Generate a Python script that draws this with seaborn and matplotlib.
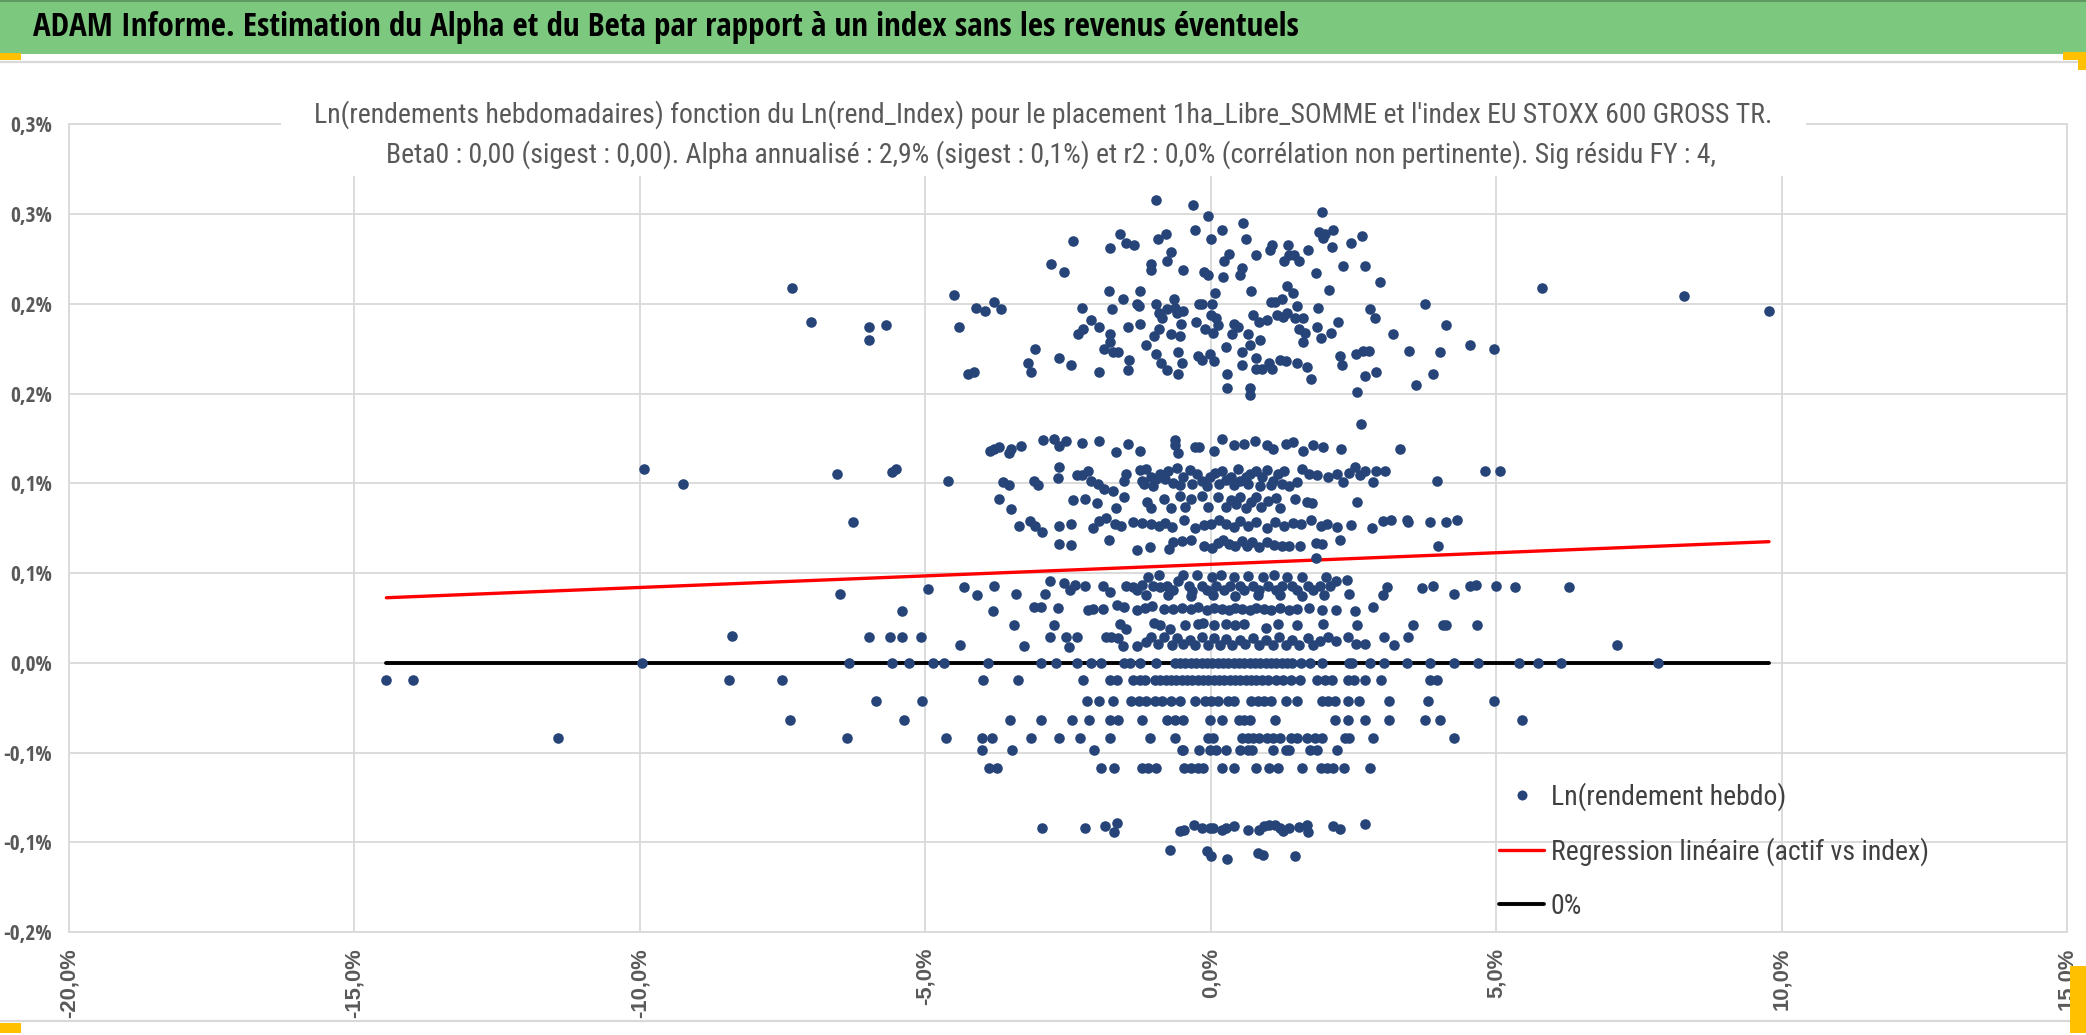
import os
import matplotlib
matplotlib.use("Agg")
import matplotlib.pyplot as plt
import seaborn as sns
import numpy as np
import pandas as pd
from matplotlib.patches import Rectangle
from matplotlib.lines import Line2D
from matplotlib import font_manager as fm
from matplotlib.font_manager import FontProperties

# ------------------------------------------------------------------
# DATA  (all values in percent)
# ------------------------------------------------------------------
main_title = ("ADAM Informe. Estimation du Alpha et du Beta par rapport à un index "
              "sans les revenus éventuels")
chart_title_1 = ("Ln(rendements hebdomadaires) fonction du Ln(rend_Index) pour le placement "
                 "1ha_Libre_SOMME et l'index EU STOXX 600 GROSS TR.")
chart_title_2 = ("Beta0 : 0,00 (sigest : 0,00). Alpha annualisé : 2,9% (sigest : 0,1%) et r2 : "
                 "0,0% (corrélation non pertinente). Sig résidu FY : 4,")
series_names = ["Ln(rendement hebdo)", "Regression linéaire (actif vs index)", "0%"]

x_tick_values = [-20, -15, -10, -5, 0, 5, 10, 15]
x_tick_labels = ["-20,0%", "-15,0%", "-10,0%", "-5,0%", "0,0%", "5,0%", "10,0%", "15,0%"]
y_tick_values = [-0.15, -0.10, -0.05, 0.0, 0.05, 0.10, 0.15, 0.20, 0.25, 0.30]
y_tick_labels = ["-0,2%", "-0,1%", "-0,1%", "0,0%", "0,1%", "0,1%", "0,2%", "0,2%", "0,3%", "0,3%"]

# regression (weekly, percent)
reg_intercept = 0.0549
reg_slope = 0.00129

# upper cloud (about 0.15% .. 0.26%)
band_high = [
    (-7.34, 0.209), (-7.01, 0.190), (-5.98, 0.187), (-5.98, 0.180), (-5.68, 0.188), (-4.49, 0.205),
    (-4.41, 0.187), (-4.12, 0.198), (-3.95, 0.196), (-3.80, 0.201), (-3.68, 0.197), (-4.26, 0.161),
    (-4.15, 0.162), (-3.20, 0.167), (-3.14, 0.162), (-3.07, 0.175), (-2.79, 0.222), (-2.57, 0.218),
    (-2.41, 0.235), (-2.66, 0.170), (-2.45, 0.166), (-2.32, 0.183), (-2.26, 0.198), (-2.23, 0.186),
    (-2.09, 0.191), (-1.96, 0.187), (-1.95, 0.162), (-1.87, 0.175), (-1.79, 0.207), (-1.76, 0.231),
    (-1.76, 0.183), (-1.76, 0.179), (-1.73, 0.197), (-1.72, 0.173), (-1.63, 0.173), (-1.59, 0.239),
    (-1.54, 0.203), (-1.49, 0.234), (-1.45, 0.187), (-1.43, 0.169), (-1.45, 0.163), (-1.34, 0.233),
    (-1.29, 0.200), (-1.26, 0.199), (-1.24, 0.207), (-1.23, 0.189), (-1.13, 0.177), (-1.05, 0.219),
    (-1.04, 0.222), (-0.96, 0.258), (-0.96, 0.200), (-0.95, 0.172), (-0.93, 0.236), (-0.91, 0.195),
    (-0.90, 0.186), (-0.87, 0.167), (-0.85, 0.192), (-0.99, 0.182), (-0.79, 0.239), (-0.77, 0.197),
    (-0.77, 0.163), (-0.76, 0.224), (-0.70, 0.229), (-0.70, 0.183), (-0.65, 0.203), (-0.62, 0.198),
    (-0.59, 0.195), (-0.57, 0.173), (-0.57, 0.161), (-0.54, 0.182), (-0.52, 0.189), (-0.51, 0.167),
    (-0.49, 0.219), (-0.48, 0.196), (-0.31, 0.255), (-0.27, 0.241), (-0.26, 0.190), (-0.23, 0.171),
    (-0.16, 0.169), (-0.20, 0.200), (-0.15, 0.200), (-0.12, 0.218), (-0.10, 0.186), (-0.05, 0.249),
    (-0.05, 0.216), (-0.01, 0.172), (0.01, 0.236), (0.01, 0.194), (0.02, 0.200), (0.04, 0.184),
    (0.05, 0.168), (0.08, 0.206), (0.10, 0.192), (0.12, 0.188), (0.20, 0.241), (0.21, 0.215),
    (0.23, 0.224), (0.26, 0.176), (0.29, 0.161), (0.29, 0.153), (0.32, 0.228), (0.38, 0.183),
    (0.41, 0.189), (0.48, 0.187), (0.51, 0.216), (0.54, 0.220), (0.54, 0.166), (0.55, 0.173),
    (0.57, 0.245), (0.62, 0.236), (0.65, 0.183), (0.68, 0.177), (0.68, 0.153), (0.68, 0.149),
    (0.71, 0.207), (0.74, 0.194), (0.79, 0.170), (0.79, 0.164), (0.80, 0.227), (0.85, 0.190),
    (0.87, 0.180), (0.90, 0.164), (0.98, 0.191), (1.02, 0.167), (1.04, 0.230), (1.05, 0.201),
    (1.07, 0.233), (1.07, 0.164), (1.13, 0.201), (1.16, 0.194), (1.22, 0.169), (1.24, 0.203),
    (1.27, 0.193), (1.29, 0.224), (1.32, 0.168), (1.34, 0.210), (1.34, 0.195), (1.35, 0.233),
    (1.37, 0.227), (1.45, 0.206), (1.46, 0.227), (1.48, 0.192), (1.51, 0.167), (1.52, 0.199),
    (1.54, 0.224), (1.55, 0.186), (1.62, 0.192), (1.62, 0.179), (1.66, 0.184), (1.69, 0.165),
    (1.70, 0.230), (1.76, 0.158), (1.85, 0.217), (1.87, 0.187), (1.88, 0.198), (1.90, 0.240),
    (1.95, 0.251), (1.96, 0.237), (2.01, 0.239), (2.07, 0.208), (2.10, 0.184), (2.12, 0.232),
    (2.15, 0.241), (1.93, 0.181), (2.23, 0.190), (2.27, 0.171), (2.30, 0.166), (2.32, 0.221),
    (2.45, 0.234), (2.54, 0.172), (2.57, 0.151), (2.65, 0.238), (2.66, 0.174), (2.70, 0.160),
    (2.71, 0.221), (2.77, 0.174), (2.79, 0.197), (2.87, 0.192), (2.90, 0.162), (2.96, 0.212),
    (3.20, 0.183), (3.48, 0.174), (3.60, 0.155), (3.76, 0.200), (3.90, 0.161), (4.01, 0.173),
    (4.12, 0.188), (4.54, 0.177), (4.96, 0.175), (5.80, 0.209), (8.29, 0.2045), (9.78, 0.196),
]

# cloud between about 0.06% and 0.13%
band_mid_upper = [
    (-3.87, 0.1179), (-3.79, 0.1194), (-3.71, 0.1202), (-3.54, 0.1168), (-3.49, 0.1190), (-3.32, 0.1209),
    (-2.93, 0.1243), (-2.74, 0.1246), (-2.66, 0.1209), (-2.54, 0.1235), (-2.26, 0.1224), (-1.95, 0.1235),
    (-1.66, 0.1175), (-1.45, 0.1220), (-1.24, 0.1183), (-0.63, 0.1243), (-0.62, 0.1216), (-0.57, 0.1172),
    (-0.27, 0.1205), (-0.20, 0.1202), (0.05, 0.1183), (0.20, 0.1246), (0.41, 0.1216), (0.59, 0.1220),
    (0.77, 0.1235), (0.98, 0.1216), (1.09, 0.1194), (1.32, 0.1220), (1.45, 0.1231), (1.62, 0.1179),
    (1.80, 0.1216), (1.96, 0.1202), (2.29, 0.1190), (2.63, 0.1332), (3.32, 0.1190),
    (-9.92, 0.108), (-9.25, 0.0994), (-6.55, 0.1052), (-5.59, 0.1062), (-5.51, 0.1080), (-4.60, 0.1015),
    (-3.63, 0.1007), (-3.54, 0.0993), (-3.10, 0.1011), (-3.02, 0.0993), (-2.68, 0.1030), (-2.65, 0.1090),
    (-2.35, 0.1049), (-2.26, 0.1049), (-2.15, 0.1067), (-2.10, 0.1011), (-1.98, 0.0996), (-1.87, 0.0970),
    (-1.71, 0.0959), (-1.52, 0.1015), (-1.48, 0.1052), (-1.24, 0.1075), (-1.21, 0.1011), (-1.13, 0.1078),
    (-1.05, 0.1037), (-0.95, 0.1022), (-0.88, 0.1052), (-0.80, 0.1022), (-0.74, 0.1071), (-0.59, 0.1086),
    (-0.49, 0.1037), (-0.37, 0.1075), (-0.24, 0.1052), (-0.15, 0.1015), (-0.01, 0.1037), (0.07, 0.1060),
    (0.20, 0.1071), (0.27, 0.1019), (0.35, 0.1037), (0.48, 0.1078), (0.51, 0.1011), (0.62, 0.1034),
    (0.68, 0.1052), (0.80, 0.1071), (0.90, 0.1034), (0.98, 0.1075), (1.09, 0.1015), (1.18, 0.1052),
    (1.29, 0.1071), (1.52, 0.1007), (1.60, 0.1082), (1.73, 0.1052), (1.87, 0.1045), (2.05, 0.1034),
    (2.21, 0.1052), (2.32, 0.1007), (2.43, 0.1060), (2.52, 0.1090), (2.62, 0.1049), (2.71, 0.1071),
    (2.85, 0.1007), (2.90, 0.1067), (3.05, 0.1071), (3.96, 0.1011), (4.80, 0.1067), (5.06, 0.1070),
    (-1.16, 0.0996), (-1.01, 0.0985), (-0.66, 0.1000), (-0.54, 0.0993), (-0.32, 0.0996), (-0.07, 0.0985),
    (0.15, 0.0996), (0.40, 0.0989), (0.66, 0.0996), (0.87, 0.0985), (1.05, 0.0993), (1.24, 0.0996),
    (1.37, 0.0985),
    (-3.71, 0.0914), (-3.49, 0.0858), (-2.41, 0.0907), (-2.21, 0.0914), (-1.99, 0.0892), (-1.66, 0.0862),
    (-1.52, 0.0925), (-1.12, 0.0896), (-1.05, 0.0862), (-0.82, 0.0914), (-0.70, 0.0862), (-0.54, 0.0929),
    (-0.45, 0.0866), (-0.34, 0.0914), (-0.15, 0.0929), (-0.05, 0.0869), (0.12, 0.0922), (0.27, 0.0869),
    (0.35, 0.0907), (0.45, 0.0884), (0.51, 0.0922), (0.62, 0.0862), (0.71, 0.0896), (0.80, 0.0922),
    (0.88, 0.0869), (1.01, 0.0903), (1.15, 0.0918), (1.21, 0.0862), (1.48, 0.0914), (1.68, 0.0896),
    (1.77, 0.0892), (2.57, 0.0896),
    (-6.26, 0.0787), (-3.35, 0.0761), (-3.16, 0.0791), (-3.07, 0.0761), (-2.96, 0.0728), (-2.65, 0.0761),
    (-2.45, 0.0776), (-2.07, 0.0754), (-1.96, 0.0791), (-1.84, 0.0806), (-1.68, 0.0772), (-1.57, 0.0761),
    (-1.37, 0.0787), (-1.21, 0.0780), (-1.05, 0.0772), (-0.91, 0.0761), (-0.80, 0.0780), (-0.68, 0.0757),
    (-0.46, 0.0795), (-0.27, 0.0754), (-0.12, 0.0769), (0.01, 0.0776), (0.15, 0.0798), (0.27, 0.0772),
    (0.40, 0.0757), (0.51, 0.0791), (0.66, 0.0765), (0.80, 0.0784), (0.98, 0.0754), (1.13, 0.0787),
    (1.29, 0.0765), (1.45, 0.0780), (1.59, 0.0772), (1.76, 0.0795), (1.93, 0.0761), (2.04, 0.0776),
    (2.21, 0.0757), (2.45, 0.0769), (2.82, 0.0754), (3.01, 0.0791), (3.16, 0.0798), (3.43, 0.0798),
    (3.46, 0.0784), (3.84, 0.0787), (4.13, 0.0787), (4.32, 0.0798),
    (-2.65, 0.0660), (-2.45, 0.0657), (-1.79, 0.0687), (-1.29, 0.0631), (-1.07, 0.0645), (-0.73, 0.0634),
    (-0.66, 0.0672), (-0.51, 0.0679), (-0.35, 0.0687), (-0.12, 0.0653), (0.02, 0.0642), (0.12, 0.0668),
    (0.21, 0.0687), (0.32, 0.0660), (0.43, 0.0649), (0.54, 0.0679), (0.63, 0.0653), (0.73, 0.0675),
    (0.84, 0.0645), (0.98, 0.0675), (1.10, 0.0657), (1.24, 0.0653), (1.37, 0.0653), (1.57, 0.0653),
    (1.84, 0.0668), (1.84, 0.0586), (1.95, 0.0660), (2.26, 0.0687), (3.99, 0.0653),
]

# cloud between about 0.008% and 0.05%
band_mid_lower = [
    (-6.49, 0.0384), (-4.96, 0.0414), (-4.32, 0.0422), (-4.09, 0.0380), (-3.80, 0.0429), (-3.41, 0.0384),
    (-2.90, 0.0384), (-2.82, 0.0455), (-2.57, 0.0444), (-2.46, 0.0407), (-2.38, 0.0436), (-2.20, 0.0429),
    (-1.88, 0.0429), (-1.76, 0.0395), (-1.48, 0.0429), (-1.37, 0.0422), (-1.29, 0.0407), (-1.21, 0.0436),
    (-1.09, 0.0481), (-1.01, 0.0429), (-0.91, 0.0489), (-0.88, 0.0422), (-0.77, 0.0429), (-0.66, 0.0407),
    (-0.57, 0.0455), (-0.48, 0.0489), (-0.38, 0.0429), (-0.32, 0.0403), (-0.24, 0.0489), (-0.16, 0.0429),
    (-0.07, 0.0407), (0.02, 0.0481), (0.10, 0.0429), (0.18, 0.0489), (0.24, 0.0407), (0.34, 0.0429),
    (0.41, 0.0481), (0.51, 0.0429), (0.59, 0.0407), (0.66, 0.0485), (0.74, 0.0429), (0.84, 0.0407),
    (0.91, 0.0481), (1.01, 0.0429), (1.10, 0.0489), (1.15, 0.0407), (1.24, 0.0429), (1.34, 0.0481),
    (1.43, 0.0429), (1.52, 0.0407), (1.60, 0.0481), (1.70, 0.0429), (1.80, 0.0407), (1.91, 0.0429),
    (2.02, 0.0481), (2.09, 0.0429), (2.20, 0.0455), (2.38, 0.0463), (2.43, 0.0384), (3.01, 0.0380),
    (3.09, 0.0422), (3.70, 0.0418), (3.90, 0.0429), (4.26, 0.0384), (4.54, 0.0429), (4.65, 0.0436),
    (4.99, 0.0430), (5.33, 0.0420), (6.27, 0.0420),
    (-1.13, 0.0380), (-0.74, 0.0377), (-0.35, 0.0373), (0.04, 0.0377), (0.43, 0.0373), (0.82, 0.0380),
    (1.21, 0.0377), (1.60, 0.0373), (1.99, 0.0380),
    (-5.40, 0.0291), (-3.82, 0.0287), (-3.09, 0.0313), (-2.98, 0.0313), (-2.68, 0.0306), (-2.15, 0.0295),
    (-2.07, 0.0302), (-1.88, 0.0302), (-1.65, 0.0321), (-1.52, 0.0310), (-1.30, 0.0295), (-1.15, 0.0306),
    (-1.02, 0.0317), (-0.82, 0.0298), (-0.66, 0.0302), (-0.51, 0.0306), (-0.35, 0.0298), (-0.23, 0.0310),
    (-0.07, 0.0295), (0.05, 0.0306), (0.20, 0.0302), (0.32, 0.0295), (0.43, 0.0306), (0.55, 0.0302),
    (0.68, 0.0295), (0.80, 0.0306), (0.93, 0.0302), (1.05, 0.0295), (1.21, 0.0306), (1.37, 0.0295),
    (1.52, 0.0302), (1.73, 0.0306), (1.95, 0.0295), (2.20, 0.0295), (2.52, 0.0291), (2.85, 0.0313),
    (-3.45, 0.0213), (-2.74, 0.0213), (-1.59, 0.0216), (-1.48, 0.0186), (-0.99, 0.0220), (-0.88, 0.0209),
    (-0.71, 0.0190), (-0.45, 0.0213), (-0.23, 0.0216), (-0.13, 0.0220), (0.05, 0.0213), (0.27, 0.0216),
    (0.43, 0.0213), (0.59, 0.0216), (0.96, 0.0194), (1.18, 0.0216), (1.52, 0.0213), (1.96, 0.0216),
    (2.57, 0.0213), (3.55, 0.0213), (4.07, 0.0209), (4.12, 0.0209), (4.66, 0.0213),
    (-8.39, 0.0151), (-5.99, 0.0142), (-5.62, 0.0142), (-5.40, 0.0142), (-5.07, 0.0142), (-4.40, 0.0097),
    (-3.27, 0.0093), (-2.82, 0.0142), (-2.54, 0.0142), (-2.49, 0.0089), (-2.34, 0.0142), (-1.84, 0.0145),
    (-1.74, 0.0142), (-1.63, 0.0138), (-1.54, 0.0093), (-1.30, 0.0093), (-1.13, 0.0116), (-1.04, 0.0145),
    (-0.93, 0.0104), (-0.82, 0.0142), (-0.68, 0.0097), (-0.59, 0.0138), (-0.48, 0.0104), (-0.37, 0.0127),
    (-0.27, 0.0097), (-0.16, 0.0142), (-0.05, 0.0101), (0.05, 0.0138), (0.16, 0.0101), (0.27, 0.0134),
    (0.38, 0.0097), (0.51, 0.0127), (0.60, 0.0104), (0.74, 0.0138), (0.85, 0.0097), (0.96, 0.0127),
    (1.09, 0.0101), (1.20, 0.0142), (1.32, 0.0097), (1.43, 0.0127), (1.55, 0.0101), (1.70, 0.0138),
    (1.80, 0.0097), (1.91, 0.0119), (2.05, 0.0142), (2.20, 0.0119), (2.40, 0.0142), (2.54, 0.0104),
    (2.70, 0.0104), (3.04, 0.0142), (3.21, 0.0097), (3.46, 0.0142), (7.11, 0.0102),
]

# flat rows (one level each)
row_levels = [0.0, -0.0097, -0.0214, -0.0318, -0.0420, -0.0487, -0.0588]
row_0_x = [-9.96, -6.34, -5.59, -5.29, -4.87, -4.68, -3.90, -2.98, -2.71, -2.35, -2.10, -1.93, -1.52,
           -1.41, -1.24, -0.96, -0.63, -0.54, -0.45, -0.35, -0.26, -0.16, -0.07, 0.02, 0.12, 0.21,
           0.30, 0.40, 0.49, 0.59, 0.68, 0.77, 0.87, 0.96, 1.05, 1.15, 1.24, 1.34, 1.43, 1.59, 1.74,
           1.95, 2.43, 2.48, 2.79, 3.04, 3.43, 3.84, 4.27, 4.68, 5.40, 5.74, 6.13, 7.84]
row_1_x = [-14.44, -13.97, -8.43, -7.51, -3.99, -3.37, -2.24, -1.77, -1.65, -1.37, -1.24, -1.15,
           -0.98, -0.88, -0.79, -0.70, -0.60, -0.51, -0.41, -0.32, -0.23, -0.13, -0.04, 0.05, 0.15,
           0.24, 0.34, 0.43, 0.52, 0.62, 0.71, 0.80, 0.90, 1.01, 1.15, 1.27, 1.40, 1.57, 1.87, 2.01,
           2.13, 2.40, 2.51, 2.70, 2.98, 3.85, 3.96]
row_2_x = [-5.87, -5.05, -2.16, -1.95, -1.71, -1.40, -1.26, -1.13, -0.98, -0.85, -0.70, -0.54, -0.27,
           -0.10, 0.01, 0.12, 0.30, 0.40, 0.71, 0.82, 0.93, 1.05, 1.32, 1.52, 1.95, 2.05, 2.18, 2.40,
           2.59, 3.12, 3.80, 4.96]
row_3_x = [-7.37, -5.37, -3.52, -2.98, -2.43, -2.13, -1.77, -1.62, -1.21, -0.77, -0.63, -0.48, -0.02,
           0.20, 0.49, 0.59, 0.68, 1.13, 2.18, 2.41, 2.70, 3.12, 3.76, 4.02, 5.46]
row_4_x = [-11.43, -6.37, -4.63, -4.01, -3.84, -3.15, -2.66, -2.29, -1.77, -1.07, -0.63, -0.04, 0.04,
           0.54, 0.65, 0.74, 0.85, 0.98, 1.09, 1.21, 1.41, 1.52, 1.68, 1.82, 1.95, 2.35, 2.43, 2.84,
           4.26]
row_5_x = [-4.01, -3.48, -2.05, -0.51, -0.20, -0.02, 0.09, 0.27, 0.52, 0.65, 0.73, 1.09, 1.32, 1.38,
           1.74, 1.87, 2.21, -0.48]
row_6_x = [-3.88, -3.74, -1.93, -1.70, -1.21, -1.10, -0.96, -0.46, -0.35, -0.23, -0.13, 0.20, 0.40,
           0.79, 1.02, 1.18, 1.60, 1.93, 2.04, 2.15, 2.34, 2.79]

# lowest clouds (about -0.09% and -0.11%)
band_low = [
    (-2.95, -0.0921), (-2.21, -0.0921), (-1.85, -0.0910), (-1.70, -0.0940), (-1.65, -0.0895),
    (-0.54, -0.0937), (-0.46, -0.0933), (-0.30, -0.0903), (-0.16, -0.0918), (-0.02, -0.0918),
    (0.04, -0.0921), (0.20, -0.0933), (0.27, -0.0921), (0.40, -0.0907), (0.65, -0.0929),
    (0.84, -0.0929), (0.93, -0.0907), (1.02, -0.0903), (1.13, -0.0903), (1.21, -0.0921),
    (1.27, -0.0937), (1.37, -0.0921), (1.54, -0.0914), (1.68, -0.0903), (1.71, -0.0940),
    (2.15, -0.0910), (2.27, -0.0925), (2.70, -0.0899),
    (-0.71, -0.1045), (-0.07, -0.1049), (0.01, -0.1075), (0.29, -0.1094), (0.82, -0.1060),
    (0.91, -0.1071), (1.48, -0.1079),
]

# ------------------------------------------------------------------
# assemble
# ------------------------------------------------------------------
xs, ys = [], []
for band in (band_high, band_mid_upper, band_mid_lower, band_low):
    for px, py in band:
        xs.append(px)
        ys.append(py)
for lvl, row in zip(row_levels, (row_0_x, row_1_x, row_2_x, row_3_x, row_4_x, row_5_x, row_6_x)):
    for px in row:
        xs.append(px)
        ys.append(lvl)
df = pd.DataFrame({"index": xs, "actif": ys})

x_lo, x_hi = df["index"].min(), df["index"].max()
line_df = pd.DataFrame({
    "index": [x_lo, x_hi],
    "reg": [reg_intercept + reg_slope * x_lo, reg_intercept + reg_slope * x_hi],
    "zero": [0.0, 0.0],
})


# ------------------------------------------------------------------
# fonts: look for a condensed face (closer to Calibri's narrow look)
# ------------------------------------------------------------------
def _weight(e):
    w = e.weight
    if isinstance(w, str):
        w = fm.weight_dict.get(w, 400)
    return w


def pick_condensed(bold):
    entries = [e for e in fm.fontManager.ttflist if e.style == "normal"]

    def ok_weight(e):
        w = _weight(e)
        return (w >= 600 and w <= 800) if bold else (w >= 380 and w <= 500)

    names = ["Liberation Sans Narrow", "Open Sans Condensed", "Roboto Condensed",
             "Noto Sans Condensed", "Open Sans SemiCondensed", "Noto Sans SemiCondensed",
             "DejaVu Sans Condensed"]
    for n in names:
        for e in entries:
            if e.name == n and ok_weight(e):
                return e.fname
    for fam in ["Open Sans", "Noto Sans", "Roboto", "Liberation Sans", "DejaVu Sans"]:
        for st in ["condensed", "semi-condensed"]:
            for e in entries:
                if e.name == fam and e.stretch == st and ok_weight(e):
                    return e.fname
    for e in entries:
        fn = os.path.basename(e.fname).lower()
        if ("condensed" in fn or "narrow" in fn) and ok_weight(e) and "italic" not in fn:
            return e.fname
    return None


_reg = pick_condensed(False)
_bold = pick_condensed(True)
FP_REG = FontProperties(fname=_reg) if _reg else FontProperties(family="Liberation Sans")
FP_BOLD = (FontProperties(fname=_bold) if _bold
           else FontProperties(family="Liberation Sans", weight="bold"))
FP_XTICK = FontProperties(family=["Liberation Sans", "DejaVu Sans"], weight="bold")

# ------------------------------------------------------------------
# figure
# ------------------------------------------------------------------
sns.set_style("white")
plt.rcParams["font.family"] = ["Liberation Sans", "DejaVu Sans"]

W, H = 2086, 1035
fig = plt.figure(figsize=(W / 100, H / 100), dpi=100)
renderer = fig.canvas.get_renderer()


def fx(p):
    return p / W


def fy(p):
    return 1 - p / H


def text_width(s, fp, size):
    p = fp.copy()
    p.set_size(size)
    t = fig.text(0, 0, s, fontproperties=p)
    w = t.get_window_extent(renderer).width
    t.remove()
    return w


def size_for(s, fp, target, ref=20.0):
    return ref * target / text_width(s, fp, ref)


GRID = "#D9D9D9"
BLUE = "#264478"
TXT = "#595959"

# decoration: green header band, borders, corner handles
fig.patches.append(Rectangle((0, fy(54)), 1, 54 / H, transform=fig.transFigure,
                             facecolor="#7DC87F", edgecolor="none", zorder=0))
fig.patches.append(Rectangle((0, fy(2)), 1, 2 / H, transform=fig.transFigure,
                             facecolor="#5F9A62", edgecolor="none", zorder=1))
fig.lines.append(Line2D([0, 1], [fy(62), fy(62)], transform=fig.transFigure, color=GRID, lw=1.6))
fig.lines.append(Line2D([0, 1], [fy(1021), fy(1021)], transform=fig.transFigure, color=GRID, lw=1.6))
ORANGE = "#FFC000"
for (x0, y0, w, h) in [(0, 53, 21, 7), (2063, 52, 23, 8), (2078, 52, 8, 18),
                       (0, 1023, 21, 10), (2070, 966, 16, 67)]:
    fig.patches.append(Rectangle((fx(x0), fy(y0 + h)), w / W, h / H, transform=fig.transFigure,
                                 facecolor=ORANGE, edgecolor="none", zorder=2))

ax = fig.add_axes([fx(69), fy(932), fx(2067) - fx(69), (932 - 124.5) / H])
ax.set_facecolor("white")

sns.lineplot(data=line_df, x="index", y="reg", ax=ax, color="#FF0000", lw=2.4,
             zorder=2, legend=False)
sns.lineplot(data=line_df, x="index", y="zero", ax=ax, color="black", lw=2.8,
             zorder=2, legend=False)
sns.scatterplot(data=df, x="index", y="actif", ax=ax, color=BLUE, s=58, linewidth=0,
                zorder=3, legend=False)

ax.set_xlim(-20, 15)
ax.set_ylim(-0.15, 0.30)

fp_x = FP_XTICK.copy()
fp_x.set_size(15.8)
ax.set_xticks(x_tick_values)
ax.set_xticklabels(x_tick_labels, rotation=90, fontproperties=fp_x, color=TXT)

ysz = min(17.0, size_for("-0,1%", FP_BOLD, 49))
fp_y = FP_BOLD.copy()
fp_y.set_size(ysz)
ax.set_yticks(y_tick_values)
ax.set_yticklabels(y_tick_labels, fontproperties=fp_y, color=TXT)

ax.tick_params(axis="both", length=0)
ax.tick_params(axis="y", pad=12.5)
ax.tick_params(axis="x", pad=11.5)
ax.set_xlabel("")
ax.set_ylabel("")
ax.grid(True, color=GRID, lw=1.3, zorder=0)
ax.set_axisbelow(True)
for sp in ax.spines.values():
    sp.set_color(GRID)
    sp.set_linewidth(1.3)

# header text
fp_h = FP_BOLD.copy()
fp_h.set_size(min(26.0, size_for(main_title, FP_BOLD, 1267)))
fig.text(fx(33), fy(28), main_title, ha="left", va="center", fontproperties=fp_h,
         color="black", zorder=6)

# chart title over a white box
fig.patches.append(Rectangle((fx(281), fy(176)), (1806 - 281) / W, (176 - 92) / H,
                             transform=fig.transFigure, facecolor="white",
                             edgecolor="none", zorder=5))
fp_t1 = FP_REG.copy()
fp_t1.set_size(min(20.0, size_for(chart_title_1, FP_REG, 1507)))
fig.text(fx(1043), fy(115), chart_title_1, ha="center", va="center", fontproperties=fp_t1,
         color=TXT, zorder=6)
fp_t2 = FP_REG.copy()
fp_t2.set_size(min(20.0, size_for(chart_title_2, FP_REG, 1383)))
fig.text(fx(1051), fy(155), chart_title_2, ha="center", va="center", fontproperties=fp_t2,
         color=TXT, zorder=6)

# legend
leg_fs = min(20.0, size_for(series_names[0], FP_REG, 245))
fs_px = leg_fs * 100 / 72
fp_leg = FP_REG.copy()
fp_leg.set_size(leg_fs)
handles = [
    Line2D([], [], ls="none", marker="o", markersize=7.2, color=BLUE, markeredgewidth=0),
    Line2D([], [], color="#FF0000", lw=2.4),
    Line2D([], [], color="black", lw=2.8),
]
leg = ax.legend(handles, series_names, loc="upper left",
                bbox_to_anchor=(fx(1499), fy(782)), bbox_transform=fig.transFigure,
                frameon=False, prop=fp_leg, borderpad=0, borderaxespad=0,
                handlelength=45 / fs_px, handletextpad=7 / fs_px,
                labelspacing=(59 - 1.16 * fs_px) / fs_px)
for t in leg.get_texts():
    t.set_color("#404040")

fig.savefig("out.png", dpi=100)
